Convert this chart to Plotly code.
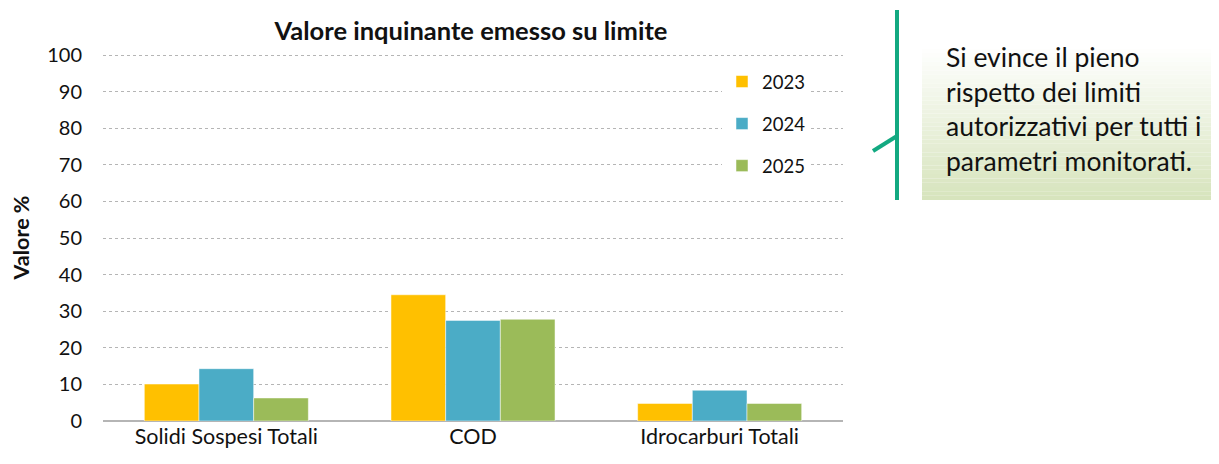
import plotly.graph_objects as go

categories = ["Solidi Sospesi Totali", "COD", "Idrocarburi Totali"]
years = ["2023", "2024", "2025"]
values_2023 = [10.1, 34.5, 4.8]
values_2024 = [14.3, 27.5, 8.4]
values_2025 = [6.3, 27.8, 4.8]
colors = ["#ffc000", "#4bacc6", "#9bbb59"]
note_lines = ["Si evince il pieno", "rispetto dei limiti",
              "autorizzativi per tutti i", "parametri monitorati."]

FONT = "Lato, 'Open Sans', sans-serif"

fig = go.Figure()
for year, vals, col in zip(years, [values_2023, values_2024, values_2025], colors):
    fig.add_trace(go.Bar(x=categories, y=vals, name=year, legendgroup=year,
                         marker=dict(color=col, line=dict(color="white", width=0.5))))

# page body has an 8px margin, so work in screen pixels and shift back
OFF = 8
W, H = 1219, 464
L, R, T, B = 103 - OFF, 843 - OFF, 54 - OFF, 421 - OFF
def px(x):
    return (x - OFF - L) / (R - L)
def py(y):
    return (B - (y - OFF)) / (B - T)

shapes = []
# gradient box behind the note (white -> pale green)
top, bot, n = 27, 200, 40
c0, c1 = (255, 255, 255), (215, 228, 189)
for i in range(n):
    y0 = top + (bot - top) * i / n
    y1 = top + (bot - top) * (i + 1) / n
    t = max(0.0, (i / (n - 1) - 0.1) / 0.9)
    c = tuple(round(a + (b - a) * t) for a, b in zip(c0, c1))
    shapes.append(dict(type="rect", xref="paper", yref="paper",
                       x0=px(922), x1=px(1219), y0=py(y1), y1=py(y0),
                       fillcolor="rgb(%d,%d,%d)" % c, line=dict(width=0)))
# callout bracket
shapes.append(dict(type="line", xref="paper", yref="paper",
                   x0=px(897), x1=px(897), y0=py(200), y1=py(10),
                   line=dict(color="#12a981", width=4)))
shapes.append(dict(type="line", xref="paper", yref="paper",
                   x0=px(873), x1=px(897), y0=py(151), y1=py(136),
                   line=dict(color="#12a981", width=4)))

annotations = []
for i, line in enumerate(note_lines):
    annotations.append(dict(text=line, xref="paper", yref="paper",
                            x=px(944), y=py(57 + 34.5 * i), xanchor="left", yanchor="middle",
                            showarrow=False, font=dict(family=FONT, size=26.5, color="#111")))

fig.update_layout(
    width=W, height=H,
    margin=dict(l=L, r=W - R, t=T, b=H - B),
    paper_bgcolor="white", plot_bgcolor="white",
    font=dict(family=FONT, size=19, color="#111"),
    title=dict(text="<b>Valore inquinante emesso su limite</b>", x=px(471), xref="paper",
               xanchor="center", y=1 - (31 - OFF) / H, yanchor="middle",
               font=dict(family=FONT, size=25.5, color="#111")),
    barmode="group", bargap=0.335, bargroupgap=0,
    xaxis=dict(showgrid=False, showline=False, ticks="", automargin=False,
               tickfont=dict(size=21.5)),
    yaxis=dict(range=[0, 100.3], tickvals=list(range(0, 101, 10)), showgrid=True,
               gridcolor="#b5b5b5", griddash="dot", gridwidth=1,
               zeroline=True, zerolinecolor="#b5b5b5", zerolinewidth=2,
               showline=False, ticks="", ticklabelstandoff=20, automargin=False,
               title=dict(text="<b>Valore %</b>", standoff=14, font=dict(size=21.5)),
               tickfont=dict(size=20)),
    legend=dict(x=px(722), y=py(63), xanchor="left", yanchor="top",
                bgcolor="white", font=dict(size=18.5), tracegroupgap=15,
                traceorder="grouped", itemwidth=30),
    shapes=shapes, annotations=annotations,
)

fig.write_html("out.html")
